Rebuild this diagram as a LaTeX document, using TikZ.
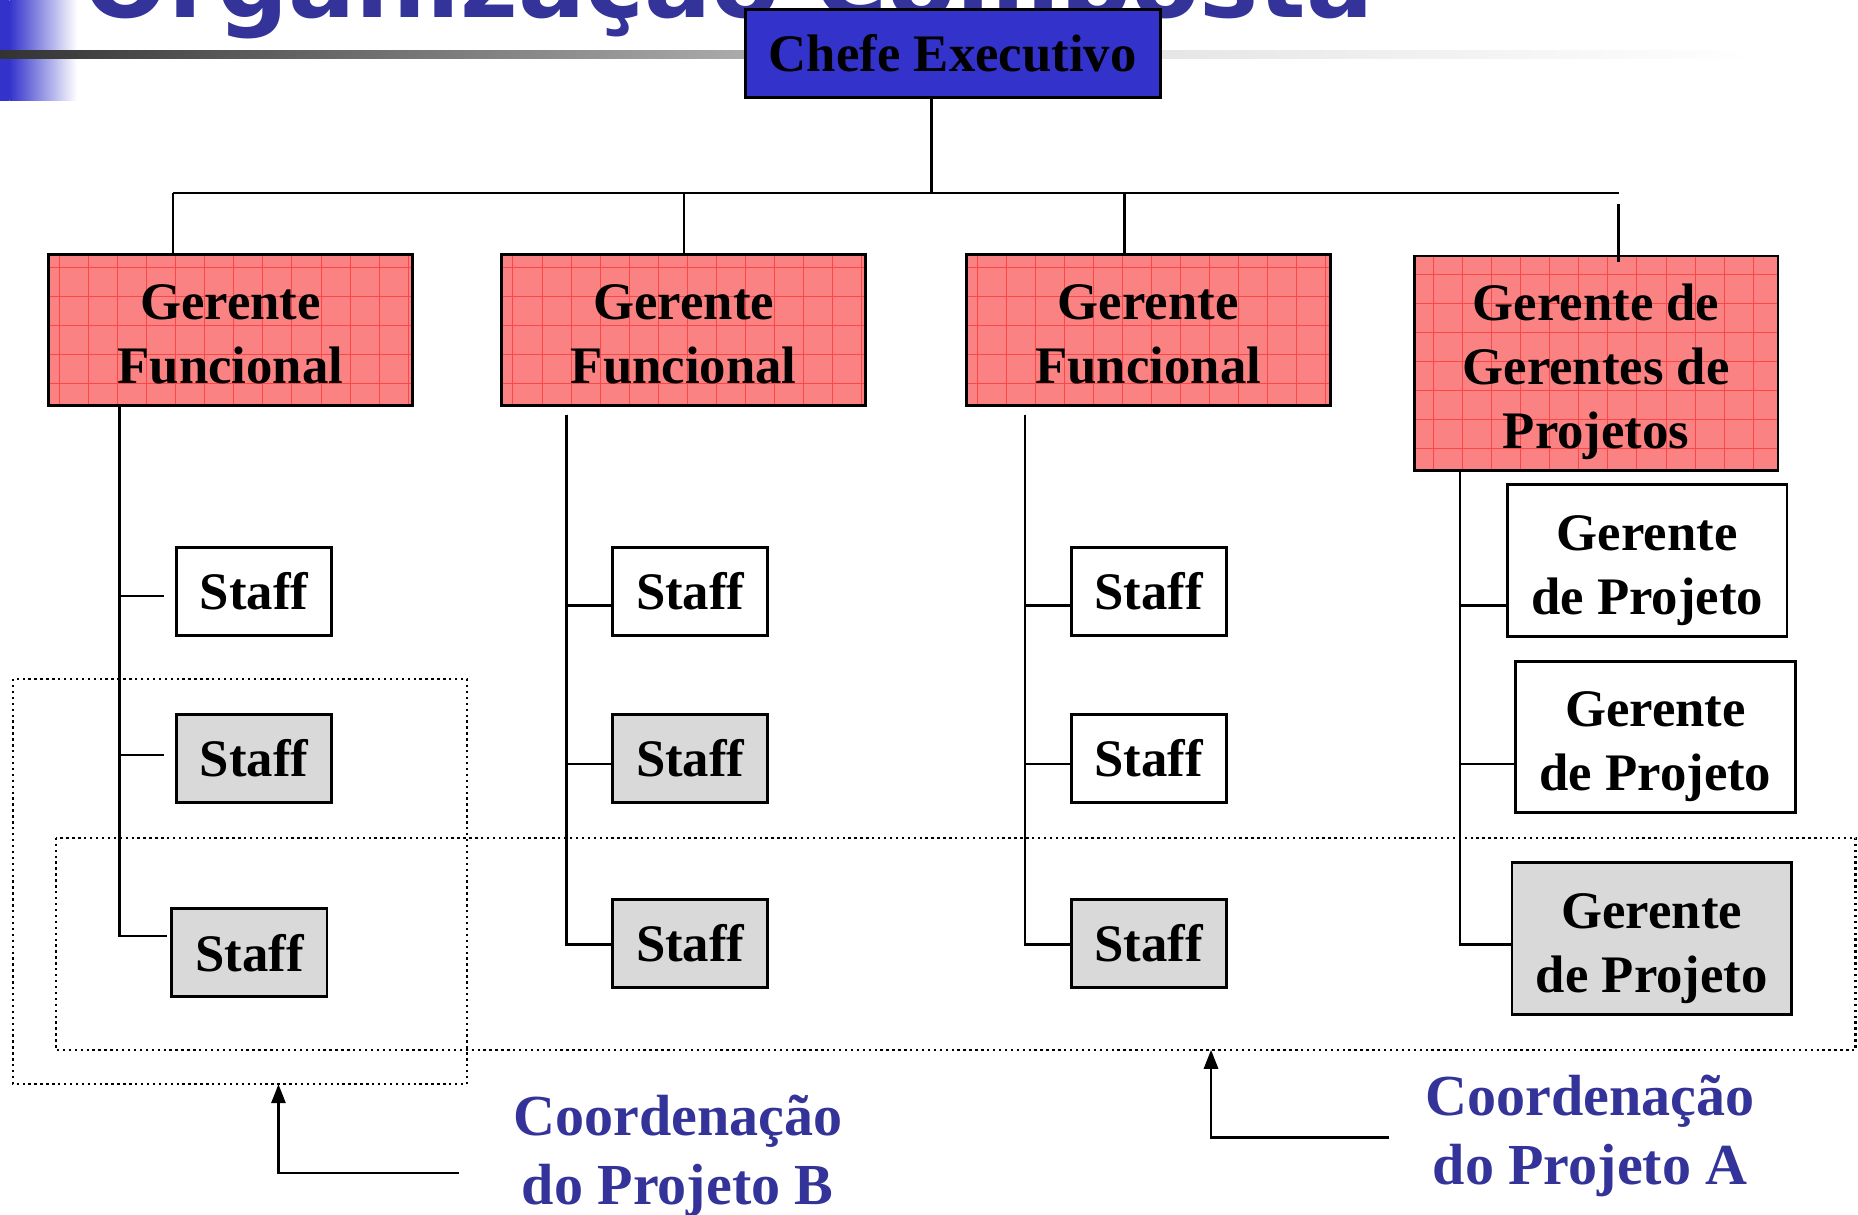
\documentclass[tikz,border=0pt]{standalone}
\usepackage{fontspec}
\setmainfont{Liberation Serif}
\newfontfamily\titleFamily{DejaVu Sans}
\usetikzlibrary{arrows.meta}
\definecolor{chefeblue}{HTML}{3333CC}
\definecolor{labelblue}{HTML}{333399}
\definecolor{gerentered}{HTML}{FA8282}
\definecolor{staffgray}{HTML}{D9D9D9}
\newcommand{\boxFont}[0]{\fontsize{22.25}{27}\selectfont\bfseries}
\newcommand{\labelFont}[0]{\fontsize{24.5}{29}\selectfont\bfseries}
\newcommand{\titleFont}[0]{\titleFamily\fontsize{42}{42}\selectfont\bfseries}

\begin{document}
\begin{tikzpicture}[x=0.5pt, y=-0.5pt]
  \tikzset{
    box/.style={draw=black, line width=1.2pt, align=center, inner sep=0pt, font=\boxFont},
    chefe/.style={box, fill=chefeblue, minimum width=175pt, minimum height=37pt},
    gerente/.style={box, fill=gerentered, minimum width=153.5pt, minimum height=63.5pt, text height=45.3pt, text depth=0pt,
      path picture={\draw[red, line width=0.3pt, opacity=0.45] (path picture bounding box.south west) grid[step=12.25pt] (path picture bounding box.north east);}},
    staff/.style={box, fill=white, minimum width=65.5pt, minimum height=37pt},
    staffshaded/.style={staff, fill=staffgray},
    projeto/.style={box, fill=white, minimum width=118pt, minimum height=64pt, text height=45.3pt, text depth=0pt},
    link/.style={line width=1pt},
    coordframe/.style={line width=1pt, dash pattern=on 1pt off 1.5pt},
    coordlabel/.style={text=labelblue, align=center, inner sep=0pt, font=\labelFont}
  }
  \useasboundingbox (0,0) rectangle (1568,1025);
  \fill[chefeblue] (0,0) rectangle (8,85);
  \shade[left color=chefeblue, right color=white] (8,0) rectangle (65,85);
  \shade[left color=black!80, right color=black!33] (0,43) rectangle (629,49);
  \shade[left color=black!10, right color=white] (979,43) rectangle (1480,49);
  \node[anchor=base west, inner sep=0pt, text=labelblue, font=\titleFont] (titulo) at (70,14.5) {Organização Composta};

  \node[chefe] (chefe) at (804,45) {Chefe Executivo};
  \node[gerente] (F-1) at (194.5,278.5) {Gerente\\Funcional};
  \node[gerente] (F-2) at (577,278.5) {Gerente\\Funcional};
  \node[gerente] (F-3) at (969,278.5) {Gerente\\Funcional};
  \node[gerente, minimum height=90.5pt, text height=72.1pt] (F-4) at (1347,306.5) {Gerente de\\Gerentes de\\Projetos};
  \node[staff] (S-1-1) at (214.5,499) {Staff};
  \node[staffshaded] (S-1-2) at (214.5,640) {Staff};
  \node[staffshaded] (S-1-3) at (210.5,804) {Staff};
  \node[staff] (S-2-1) at (582.5,499) {Staff};
  \node[staffshaded] (S-2-2) at (582.5,640) {Staff};
  \node[staffshaded] (S-2-3) at (582.5,796) {Staff};
  \node[staff] (S-3-1) at (969.5,499) {Staff};
  \node[staff] (S-3-2) at (969.5,640) {Staff};
  \node[staffshaded] (S-3-3) at (969.5,796) {Staff};
  \node[projeto] (P-1) at (1390,473) {Gerente\\de Projeto};
  \node[projeto] (P-2) at (1397,622) {Gerente\\de Projeto};
  \node[projeto, fill=staffgray] (P-3) at (1394,792) {Gerente\\de Projeto};

  \coordinate (bus) at (786,163);
  \coordinate (bus-L) at (146,163);
  \coordinate (bus-R) at (1366,163);
  \coordinate (drop-3) at (949,163);
  \coordinate (drop-4) at (1366,172);
  \draw[link] ([xshift=-9pt]chefe.south) -- (bus);
  \draw[link] (bus-L) -- (bus-R);
  \draw[link] (bus-L) -- (bus-L |- F-1.north);
  \draw[link] (F-2.north |- bus) -- (F-2.north);
  \draw[link] (drop-3) -- (drop-3 |- F-3.north);
  \draw[link] (drop-4) -- (drop-4 |- F-4.north) -- ++(0,6);

  \coordinate (T-1) at (101,342);
  \coordinate (T-2) at (478,350);
  \coordinate (T-3) at (865,350);
  \coordinate (T-4) at (1232,397);
  \draw[link] (T-1) |- ([xshift=-4.5pt, yshift=-2pt]S-1-1.west);
  \draw[link] (T-1) |- ([xshift=-4.5pt, yshift=1.5pt]S-1-2.west);
  \draw[link] (T-1) |- ([xshift=-1.5pt, yshift=7pt]S-1-3.west);
  \draw[link] (T-2) |- ([yshift=-6pt]S-2-1.west);
  \draw[link] (T-2) |- ([yshift=-2.5pt]S-2-2.west);
  \draw[link] (T-2) |- ([yshift=-0.5pt]S-2-3.west);
  \draw[link] (T-3) |- ([yshift=-6pt]S-3-1.west);
  \draw[link] (T-3) |- ([yshift=-2.5pt]S-3-2.west);
  \draw[link] (T-3) |- ([yshift=-0.5pt]S-3-3.west);
  \draw[link] (T-4) |- ([yshift=-19pt]P-1.west);
  \draw[link] (T-4) |- ([yshift=-11.5pt]P-2.west);
  \draw[link] (T-4) |- ([yshift=-2.5pt]P-3.west);

  \draw[coordframe] (11,573) rectangle (394,915);
  \draw[coordframe] (47,707) rectangle (1566,886);
  \coordinate (B-tip) at (235,915);
  \coordinate (A-tip) at (1022,886);
  \coordinate (B-start) at (387,990);
  \coordinate (A-start) at (1172,960);
  \node[coordlabel] (lab-B) at (572,975.5) {Coordenação\\do Projeto B};
  \node[coordlabel] (lab-A) at (1342,958.5) {Coordenação\\do Projeto A};
  \draw[link, -{Triangle[width=6pt, length=8pt]}] (B-start) -| (B-tip);
  \draw[link, -{Triangle[width=6pt, length=8pt]}] (A-start) -| (A-tip);
\end{tikzpicture}
\end{document}
